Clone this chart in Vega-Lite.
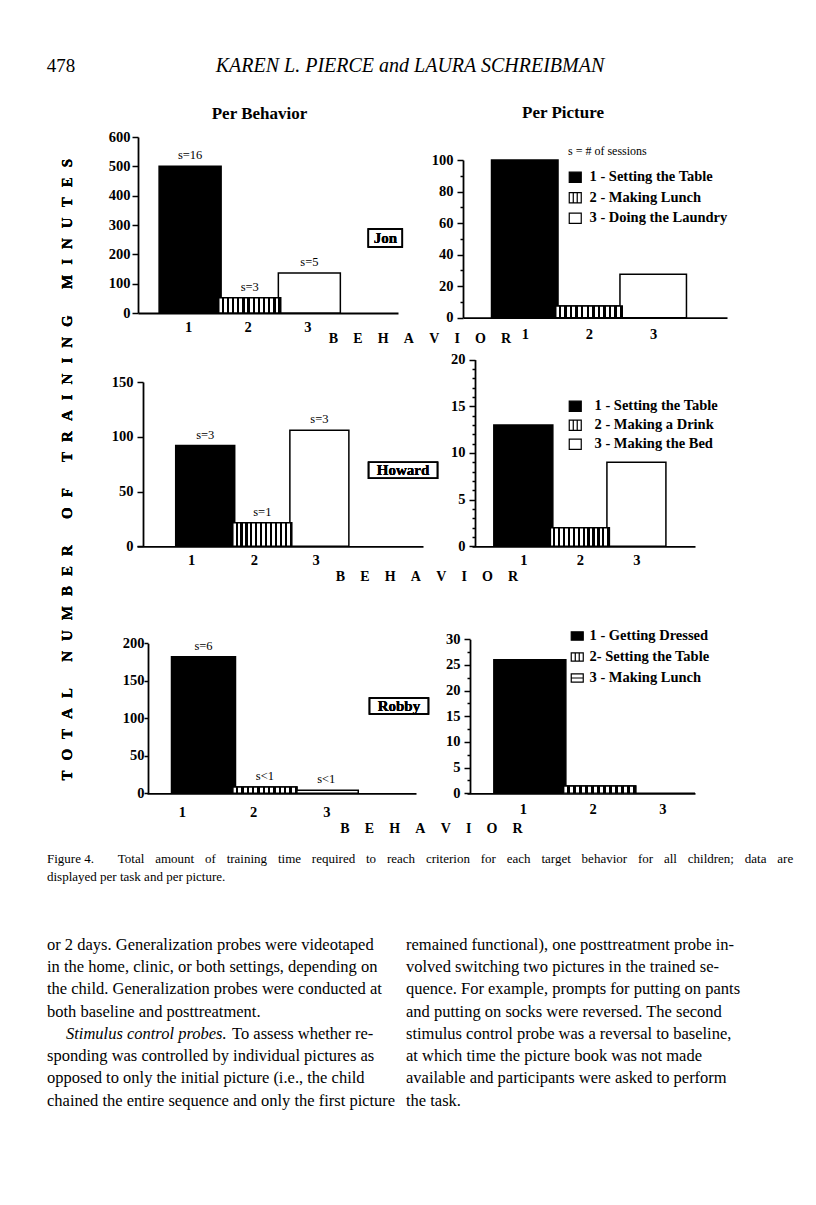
{
"$schema": "https://vega.github.io/schema/vega-lite/v6.json",
"background": "white",
"padding": 0,
"columns": 2,
"bounds": "flush",
"spacing": 0,
"align": "each",
"resolve": {"scale": {"fill": "independent", "shape": "independent"}, "legend": {"fill": "independent", "shape": "independent"}},
"config": {
 "view": {"stroke": null},
 "font": "Liberation Serif",
 "axis": {"labelFont": "Liberation Serif", "labelFontWeight": "bold", "labelFontSize": 14.5, "labelColor": "black", "domainColor": "black", "domainWidth": 1.8, "tickColor": "black", "tickWidth": 1.5, "grid": false, "titleFont": "Liberation Serif", "titleFontWeight": "bold", "titleFontSize": 14, "titleColor": "black", "labelOverlap": false, "labelFlush": false},
 "legend": {"labelFont": "Liberation Serif", "labelFontWeight": "bold", "labelFontSize": 14.5, "labelColor": "black", "titleFont": "Liberation Serif", "titleColor": "black", "symbolStrokeColor": "black", "symbolStrokeWidth": 1.2, "symbolOpacity": 1, "symbolSize": 144, "padding": 0, "orient": "none"},
 "text": {"font": "Liberation Serif", "color": "black"},
 "title": {"font": "Liberation Serif", "fontWeight": "bold", "fontSize": 17, "color": "black"}
},
"concat": [
 {"width": 463, "height": 132,
  "data": {"values": [{"pos": 1, "text": "478"}, {"pos": 2, "text": "KAREN L. PIERCE and LAURA SCHREIBMAN"}]},
  "encoding": {"x": {"field": "pos", "type": "quantitative", "scale": {"domain": [1, 2], "range": [61, 410]}, "axis": null}, "text": {"field": "text"}},
  "layer": [
   {"transform": [{"filter": "datum.pos === 1"}], "mark": {"type": "text", "fontSize": 19, "baseline": "middle"}},
   {"transform": [{"filter": "datum.pos === 2"}], "mark": {"type": "text", "fontSize": 20, "fontStyle": "italic", "baseline": "middle"}}
  ]},
 {"width": 1, "height": 132, "data": {"values": [{"t": ""}]}, "mark": {"type": "text"}, "encoding": {"text": {"field": "t"}}},

 {"width": 463, "height": 181,
  "title": {"text": "Per Behavior", "anchor": "middle", "frame": "group", "baseline": "alphabetic", "offset": 0, "dy": 7, "dx": 28},
  "data": {"values": [{"behavior": 1, "minutes": 500, "sessions": "s=16"}, {"behavior": 2, "minutes": 52, "sessions": "s=3"}, {"behavior": 3, "minutes": 136, "sessions": "s=5"}]},
  "encoding": {
   "x": {"field": "behavior", "type": "quantitative", "title": null, "scale": {"domain": [0.2097, 4.4032], "range": [138, 398], "nice": false, "zero": false}, "axis": {"values": [1, 2, 3], "format": "d", "ticks": false, "tickSize": 0, "labelPadding": 7, "labelOffset": -2}},
   "y": {"field": "minutes", "type": "quantitative", "title": null, "scale": {"domain": [0, 600], "range": [181, 5], "nice": false}, "axis": {"values": [0, 100, 200, 300, 400, 500, 600], "tickSize": 6, "labelPadding": 2, "offset": -138}}
  },
  "layer": [
   {"mark": {"type": "bar", "orient": "vertical", "width": 62, "stroke": "black", "strokeWidth": 1.5, "opacity": 1}, "encoding": {"fill": {"condition": {"test": "datum.behavior === 1", "value": "black"}, "value": "white"}}},
   {"transform": [{"filter": "datum.behavior === 2"}], "mark": {"type": "bar", "orient": "vertical", "width": 62, "stroke": "black", "strokeWidth": 1.5, "opacity": 1, "fill": {"gradient": "linear", "x1": 0, "y1": 0, "x2": 1, "y2": 0, "stops": [{"offset": 0, "color": "white"}, {"offset": 0.046, "color": "white"}, {"offset": 0.046, "color": "black"}, {"offset": 0.083, "color": "black"}, {"offset": 0.083, "color": "white"}, {"offset": 0.129, "color": "white"}, {"offset": 0.129, "color": "black"}, {"offset": 0.167, "color": "black"}, {"offset": 0.167, "color": "white"}, {"offset": 0.213, "color": "white"}, {"offset": 0.213, "color": "black"}, {"offset": 0.25, "color": "black"}, {"offset": 0.25, "color": "white"}, {"offset": 0.296, "color": "white"}, {"offset": 0.296, "color": "black"}, {"offset": 0.333, "color": "black"}, {"offset": 0.333, "color": "white"}, {"offset": 0.379, "color": "white"}, {"offset": 0.379, "color": "black"}, {"offset": 0.417, "color": "black"}, {"offset": 0.417, "color": "white"}, {"offset": 0.463, "color": "white"}, {"offset": 0.463, "color": "black"}, {"offset": 0.5, "color": "black"}, {"offset": 0.5, "color": "white"}, {"offset": 0.546, "color": "white"}, {"offset": 0.546, "color": "black"}, {"offset": 0.583, "color": "black"}, {"offset": 0.583, "color": "white"}, {"offset": 0.629, "color": "white"}, {"offset": 0.629, "color": "black"}, {"offset": 0.667, "color": "black"}, {"offset": 0.667, "color": "white"}, {"offset": 0.713, "color": "white"}, {"offset": 0.713, "color": "black"}, {"offset": 0.75, "color": "black"}, {"offset": 0.75, "color": "white"}, {"offset": 0.796, "color": "white"}, {"offset": 0.796, "color": "black"}, {"offset": 0.833, "color": "black"}, {"offset": 0.833, "color": "white"}, {"offset": 0.879, "color": "white"}, {"offset": 0.879, "color": "black"}, {"offset": 0.917, "color": "black"}, {"offset": 0.917, "color": "white"}, {"offset": 0.963, "color": "white"}, {"offset": 0.963, "color": "black"}, {"offset": 1, "color": "black"}]}}},
   {"mark": {"type": "text", "baseline": "alphabetic", "dy": -7, "fontSize": 12.5}, "encoding": {"text": {"field": "sessions"}}},
   {"mark": {"type": "point", "shape": "M-1,-0.53H1V0.53H-1Z", "size": 1156, "filled": false, "stroke": "black", "strokeWidth": 1.5, "opacity": 1}, "encoding": {"x": {"datum": 4.2742, "type": "quantitative"}, "y": {"datum": 255.7, "type": "quantitative"}}},
   {"mark": {"type": "text", "fontWeight": "bold", "fontSize": 15, "baseline": "middle"}, "encoding": {"x": {"datum": 4.2742, "type": "quantitative"}, "y": {"datum": 255.7, "type": "quantitative"}, "text": {"value": "Jon"}}}
  ]},
 {"width": 264, "height": 185.7,
  "title": {"text": "Per Picture", "anchor": "middle", "frame": "group", "baseline": "alphabetic", "offset": 0, "dy": 3, "dx": -32},
  "data": {"values": [{"behavior": 1, "minutes": 100, "task": "1 - Setting the Table"}, {"behavior": 2, "minutes": 7.4, "task": "2 - Making Lunch"}, {"behavior": 3, "minutes": 27.5, "task": "3 - Doing the Laundry"}]},
  "encoding": {
   "x": {"field": "behavior", "type": "quantitative", "title": "B\u2003\u200AE\u2003\u200AH\u2003\u200AA\u2003\u200AV\u2003\u200AI\u2003\u200AO\u2003\u200AR", "scale": {"domain": [0.1161, 4.0711], "nice": false, "zero": false}, "axis": {"values": [1, 2, 3], "format": "d", "ticks": false, "tickSize": 0, "labelPadding": 10, "titleX": -43.5, "titleY": 24.9, "titleAlign": "center", "titleBaseline": "alphabetic"}},
   "y": {"field": "minutes", "type": "quantitative", "title": null, "scale": {"domain": [0, 100], "range": [185.7, 28], "nice": false}, "axis": {"values": [0, 10, 20, 30, 40, 50, 60, 70, 80, 90, 100], "tickSize": {"condition": {"test": "datum.value % 20 === 0", "value": 6}, "value": 3}, "labelExpr": "datum.value % 20 === 0 ? datum.label : ''", "labelPadding": 4}}
  },
  "layer": [
   {"mark": {"type": "bar", "orient": "vertical", "width": 66.5, "stroke": "black", "strokeWidth": 1.5, "opacity": 1}, "encoding": {"fill": {"condition": {"test": "datum.behavior === 1", "value": "black"}, "value": "white"}}},
   {"transform": [{"filter": "datum.behavior === 2"}], "mark": {"type": "bar", "orient": "vertical", "width": 66.5, "stroke": "black", "strokeWidth": 1.5, "opacity": 1, "fill": {"gradient": "linear", "x1": 0, "y1": 0, "x2": 1, "y2": 0, "stops": [{"offset": 0, "color": "white"}, {"offset": 0.046, "color": "white"}, {"offset": 0.046, "color": "black"}, {"offset": 0.083, "color": "black"}, {"offset": 0.083, "color": "white"}, {"offset": 0.129, "color": "white"}, {"offset": 0.129, "color": "black"}, {"offset": 0.167, "color": "black"}, {"offset": 0.167, "color": "white"}, {"offset": 0.213, "color": "white"}, {"offset": 0.213, "color": "black"}, {"offset": 0.25, "color": "black"}, {"offset": 0.25, "color": "white"}, {"offset": 0.296, "color": "white"}, {"offset": 0.296, "color": "black"}, {"offset": 0.333, "color": "black"}, {"offset": 0.333, "color": "white"}, {"offset": 0.379, "color": "white"}, {"offset": 0.379, "color": "black"}, {"offset": 0.417, "color": "black"}, {"offset": 0.417, "color": "white"}, {"offset": 0.463, "color": "white"}, {"offset": 0.463, "color": "black"}, {"offset": 0.5, "color": "black"}, {"offset": 0.5, "color": "white"}, {"offset": 0.546, "color": "white"}, {"offset": 0.546, "color": "black"}, {"offset": 0.583, "color": "black"}, {"offset": 0.583, "color": "white"}, {"offset": 0.629, "color": "white"}, {"offset": 0.629, "color": "black"}, {"offset": 0.667, "color": "black"}, {"offset": 0.667, "color": "white"}, {"offset": 0.713, "color": "white"}, {"offset": 0.713, "color": "black"}, {"offset": 0.75, "color": "black"}, {"offset": 0.75, "color": "white"}, {"offset": 0.796, "color": "white"}, {"offset": 0.796, "color": "black"}, {"offset": 0.833, "color": "black"}, {"offset": 0.833, "color": "white"}, {"offset": 0.879, "color": "white"}, {"offset": 0.879, "color": "black"}, {"offset": 0.917, "color": "black"}, {"offset": 0.917, "color": "white"}, {"offset": 0.963, "color": "white"}, {"offset": 0.963, "color": "black"}, {"offset": 1, "color": "black"}]}}},
   {"mark": {"type": "point", "opacity": 0, "filled": true, "stroke": "black", "strokeWidth": 1.2},
    "encoding": {
     "fill": {"field": "task", "type": "nominal", "scale": {"domain": ["1 - Setting the Table", "2 - Making Lunch", "3 - Doing the Laundry"], "range": ["black", "white", "white"]}, "legend": {"title": "s = # of sessions", "titleFontSize": 12, "titleFontWeight": "normal", "titlePadding": 12, "legendX": 105, "legendY": 14, "rowPadding": 4.5, "labelOffset": 7, "encode": {"symbols": {"update": {"stroke": {"value": "black"}, "strokeWidth": {"value": 1.2}}}}}},
     "shape": {"field": "task", "type": "nominal", "scale": {"domain": ["1 - Setting the Table", "2 - Making Lunch", "3 - Doing the Laundry"], "range": ["M-1,-0.85H1V0.85H-1Z", "M-1,-0.85H1V0.85H-1ZM-0.33,-0.85V0.85M0.33,-0.85V0.85", "M-1,-0.85H1V0.85H-1Z"]}, "legend": {"title": "s = # of sessions", "titleFontSize": 12, "titleFontWeight": "normal", "titlePadding": 12, "legendX": 105, "legendY": 14, "rowPadding": 4.5, "labelOffset": 7, "encode": {"symbols": {"update": {"stroke": {"value": "black"}, "strokeWidth": {"value": 1.2}}}}}}
    }}
  ]},

 {"width": 463, "height": 228.3,
  "data": {"values": [{"behavior": 1, "minutes": 92, "sessions": "s=3"}, {"behavior": 2, "minutes": 21.6, "sessions": "s=1"}, {"behavior": 3, "minutes": 106, "sessions": "s=3"}]},
  "encoding": {
   "x": {"field": "behavior", "type": "quantitative", "title": null, "scale": {"domain": [-0.1073, 4.7278], "range": [137, 423], "nice": false, "zero": false}, "axis": {"values": [0.755, 1.854, 2.936], "labelExpr": "'' + round(datum.value)", "ticks": false, "tickSize": 0, "labelPadding": 7}},
   "y": {"field": "minutes", "type": "quantitative", "title": null, "scale": {"domain": [0, 150], "range": [228.3, 64], "nice": false}, "axis": {"values": [0, 50, 100, 150], "tickSize": 6, "labelPadding": 4, "offset": -143}}
  },
  "layer": [
   {"mark": {"type": "bar", "orient": "vertical", "width": 59, "stroke": "black", "strokeWidth": 1.5, "opacity": 1}, "encoding": {"fill": {"condition": {"test": "datum.behavior === 1", "value": "black"}, "value": "white"}}},
   {"transform": [{"filter": "datum.behavior === 2"}], "mark": {"type": "bar", "orient": "vertical", "width": 59, "stroke": "black", "strokeWidth": 1.5, "opacity": 1, "fill": {"gradient": "linear", "x1": 0, "y1": 0, "x2": 1, "y2": 0, "stops": [{"offset": 0, "color": "white"}, {"offset": 0.046, "color": "white"}, {"offset": 0.046, "color": "black"}, {"offset": 0.083, "color": "black"}, {"offset": 0.083, "color": "white"}, {"offset": 0.129, "color": "white"}, {"offset": 0.129, "color": "black"}, {"offset": 0.167, "color": "black"}, {"offset": 0.167, "color": "white"}, {"offset": 0.213, "color": "white"}, {"offset": 0.213, "color": "black"}, {"offset": 0.25, "color": "black"}, {"offset": 0.25, "color": "white"}, {"offset": 0.296, "color": "white"}, {"offset": 0.296, "color": "black"}, {"offset": 0.333, "color": "black"}, {"offset": 0.333, "color": "white"}, {"offset": 0.379, "color": "white"}, {"offset": 0.379, "color": "black"}, {"offset": 0.417, "color": "black"}, {"offset": 0.417, "color": "white"}, {"offset": 0.463, "color": "white"}, {"offset": 0.463, "color": "black"}, {"offset": 0.5, "color": "black"}, {"offset": 0.5, "color": "white"}, {"offset": 0.546, "color": "white"}, {"offset": 0.546, "color": "black"}, {"offset": 0.583, "color": "black"}, {"offset": 0.583, "color": "white"}, {"offset": 0.629, "color": "white"}, {"offset": 0.629, "color": "black"}, {"offset": 0.667, "color": "black"}, {"offset": 0.667, "color": "white"}, {"offset": 0.713, "color": "white"}, {"offset": 0.713, "color": "black"}, {"offset": 0.75, "color": "black"}, {"offset": 0.75, "color": "white"}, {"offset": 0.796, "color": "white"}, {"offset": 0.796, "color": "black"}, {"offset": 0.833, "color": "black"}, {"offset": 0.833, "color": "white"}, {"offset": 0.879, "color": "white"}, {"offset": 0.879, "color": "black"}, {"offset": 0.917, "color": "black"}, {"offset": 0.917, "color": "white"}, {"offset": 0.963, "color": "white"}, {"offset": 0.963, "color": "black"}, {"offset": 1, "color": "black"}]}}},
   {"mark": {"type": "text", "baseline": "alphabetic", "dy": -7, "fontSize": 12.5}, "encoding": {"text": {"field": "sessions"}}},
   {"mark": {"type": "point", "shape": "M-1,-0.232H1V0.232H-1Z", "size": 4761, "filled": false, "stroke": "black", "strokeWidth": 1.5, "opacity": 1}, "encoding": {"x": {"datum": 4.4658, "type": "quantitative"}, "y": {"datum": 69.39, "type": "quantitative"}}},
   {"mark": {"type": "text", "fontWeight": "bold", "fontSize": 15, "baseline": "middle"}, "encoding": {"x": {"datum": 4.4658, "type": "quantitative"}, "y": {"datum": 69.39, "type": "quantitative"}, "text": {"value": "Howard"}}},
   {"mark": {"type": "text", "angle": 270, "fontSize": 15, "fontWeight": "bold", "baseline": "middle", "align": "center"}, "encoding": {"x": {"datum": -1.426, "type": "quantitative"}, "y": {"datum": 69.85, "type": "quantitative"}, "text": {"value": "T\u2002\u2006O\u2002\u2006T\u2002\u2006A\u2002\u2006L\u2003\u2002\u2005N\u2002\u2006U\u2002\u2006M\u2002\u2006B\u2002\u2006E\u2002\u2006R\u2003\u2002\u2005O\u2002\u2006F\u2003\u2002\u2005T\u2002\u2006R\u2002\u2006A\u2002\u2006I\u2002\u2006N\u2002\u2006I\u2002\u2006N\u2002\u2006G\u2003\u2002\u2005M\u2002\u2006I\u2002\u2006N\u2002\u2006U\u2002\u2006T\u2002\u2006E\u2002\u2006S"}}}
  ]},
 {"width": 232, "height": 228.3,
  "data": {"values": [{"behavior": 1, "minutes": 13, "task": "1 - Setting the Table"}, {"behavior": 2, "minutes": 2, "task": "2 - Making a Drink"}, {"behavior": 3, "minutes": 9, "task": "3 - Making the Bed"}]},
  "encoding": {
   "x": {"field": "behavior", "type": "quantitative", "title": "B\u2003\u200AE\u2003\u200AH\u2003\u200AA\u2003\u200AV\u2003\u200AI\u2003\u200AO\u2003\u200AR", "scale": {"domain": [0.1807, 3.9476], "range": [9, 232], "nice": false, "zero": false}, "axis": {"values": [1, 2, 3], "format": "d", "ticks": false, "tickSize": 0, "labelPadding": 7, "titleX": -36.5, "titleY": 34.6, "titleAlign": "center", "titleBaseline": "alphabetic"}},
   "y": {"field": "minutes", "type": "quantitative", "title": null, "scale": {"domain": [0, 20], "range": [228.3, 41.6], "nice": false}, "axis": {"values": [0, 1, 2, 3, 4, 5, 6, 7, 8, 9, 10, 11, 12, 13, 14, 15, 16, 17, 18, 19, 20], "tickSize": {"condition": {"test": "datum.value % 5 === 0", "value": 6}, "value": 3}, "labelExpr": "datum.value % 5 === 0 ? datum.label : ''", "labelPadding": 4, "offset": -12}}
  },
  "layer": [
   {"mark": {"type": "bar", "orient": "vertical", "width": 59, "stroke": "black", "strokeWidth": 1.5, "opacity": 1}, "encoding": {"fill": {"condition": {"test": "datum.behavior === 1", "value": "black"}, "value": "white"}}},
   {"transform": [{"filter": "datum.behavior === 2"}], "mark": {"type": "bar", "orient": "vertical", "width": 59, "stroke": "black", "strokeWidth": 1.5, "opacity": 1, "fill": {"gradient": "linear", "x1": 0, "y1": 0, "x2": 1, "y2": 0, "stops": [{"offset": 0, "color": "white"}, {"offset": 0.046, "color": "white"}, {"offset": 0.046, "color": "black"}, {"offset": 0.083, "color": "black"}, {"offset": 0.083, "color": "white"}, {"offset": 0.129, "color": "white"}, {"offset": 0.129, "color": "black"}, {"offset": 0.167, "color": "black"}, {"offset": 0.167, "color": "white"}, {"offset": 0.213, "color": "white"}, {"offset": 0.213, "color": "black"}, {"offset": 0.25, "color": "black"}, {"offset": 0.25, "color": "white"}, {"offset": 0.296, "color": "white"}, {"offset": 0.296, "color": "black"}, {"offset": 0.333, "color": "black"}, {"offset": 0.333, "color": "white"}, {"offset": 0.379, "color": "white"}, {"offset": 0.379, "color": "black"}, {"offset": 0.417, "color": "black"}, {"offset": 0.417, "color": "white"}, {"offset": 0.463, "color": "white"}, {"offset": 0.463, "color": "black"}, {"offset": 0.5, "color": "black"}, {"offset": 0.5, "color": "white"}, {"offset": 0.546, "color": "white"}, {"offset": 0.546, "color": "black"}, {"offset": 0.583, "color": "black"}, {"offset": 0.583, "color": "white"}, {"offset": 0.629, "color": "white"}, {"offset": 0.629, "color": "black"}, {"offset": 0.667, "color": "black"}, {"offset": 0.667, "color": "white"}, {"offset": 0.713, "color": "white"}, {"offset": 0.713, "color": "black"}, {"offset": 0.75, "color": "black"}, {"offset": 0.75, "color": "white"}, {"offset": 0.796, "color": "white"}, {"offset": 0.796, "color": "black"}, {"offset": 0.833, "color": "black"}, {"offset": 0.833, "color": "white"}, {"offset": 0.879, "color": "white"}, {"offset": 0.879, "color": "black"}, {"offset": 0.917, "color": "black"}, {"offset": 0.917, "color": "white"}, {"offset": 0.963, "color": "white"}, {"offset": 0.963, "color": "black"}, {"offset": 1, "color": "black"}]}}},
   {"mark": {"type": "point", "opacity": 0, "filled": true, "stroke": "black", "strokeWidth": 1.2},
    "encoding": {
     "fill": {"field": "task", "type": "nominal", "scale": {"domain": ["1 - Setting the Table", "2 - Making a Drink", "3 - Making the Bed"], "range": ["black", "white", "white"]}, "legend": {"title": null, "legendX": 105, "legendY": 81, "rowPadding": 3, "labelOffset": 12, "encode": {"symbols": {"update": {"stroke": {"value": "black"}, "strokeWidth": {"value": 1.2}}}}}},
     "shape": {"field": "task", "type": "nominal", "scale": {"domain": ["1 - Setting the Table", "2 - Making a Drink", "3 - Making the Bed"], "range": ["M-1,-0.85H1V0.85H-1Z", "M-1,-0.85H1V0.85H-1ZM-0.33,-0.85V0.85M0.33,-0.85V0.85", "M-1,-0.85H1V0.85H-1Z"]}, "legend": {"title": null, "legendX": 105, "legendY": 81, "rowPadding": 3, "labelOffset": 12, "encode": {"symbols": {"update": {"stroke": {"value": "black"}, "strokeWidth": {"value": 1.2}}}}}}
    }}
  ]},

 {"width": 463, "height": 246.3,
  "data": {"values": [{"behavior": 1, "minutes": 182, "sessions": "s=6"}, {"behavior": 2, "minutes": 8.4, "sessions": "s<1"}, {"behavior": 3, "minutes": 4, "sessions": "s<1"}]},
  "encoding": {
   "x": {"field": "behavior", "type": "quantitative", "title": null, "scale": {"domain": [0.161, 4.3806], "range": [147, 416], "nice": false, "zero": false}, "axis": {"values": [0.647, 1.808, 3.0], "labelExpr": "'' + round(datum.value)", "ticks": false, "tickSize": 0, "labelPadding": 12}},
   "y": {"field": "minutes", "type": "quantitative", "title": null, "scale": {"domain": [0, 200], "range": [246.3, 96.3], "nice": false}, "axis": {"values": [0, 50, 100, 150, 200], "tickSize": 4, "labelPadding": 0, "offset": -148}}
  },
  "layer": [
   {"mark": {"type": "bar", "orient": "vertical", "width": 64, "stroke": "black", "strokeWidth": 1.5, "opacity": 1}, "encoding": {"fill": {"condition": {"test": "datum.behavior === 1", "value": "black"}, "value": "white"}}},
   {"transform": [{"filter": "datum.behavior === 2"}], "mark": {"type": "bar", "orient": "vertical", "width": 64, "stroke": "black", "strokeWidth": 1.5, "opacity": 1, "fill": {"gradient": "linear", "x1": 0, "y1": 0, "x2": 1, "y2": 0, "stops": [{"offset": 0, "color": "white"}, {"offset": 0.046, "color": "white"}, {"offset": 0.046, "color": "black"}, {"offset": 0.083, "color": "black"}, {"offset": 0.083, "color": "white"}, {"offset": 0.129, "color": "white"}, {"offset": 0.129, "color": "black"}, {"offset": 0.167, "color": "black"}, {"offset": 0.167, "color": "white"}, {"offset": 0.213, "color": "white"}, {"offset": 0.213, "color": "black"}, {"offset": 0.25, "color": "black"}, {"offset": 0.25, "color": "white"}, {"offset": 0.296, "color": "white"}, {"offset": 0.296, "color": "black"}, {"offset": 0.333, "color": "black"}, {"offset": 0.333, "color": "white"}, {"offset": 0.379, "color": "white"}, {"offset": 0.379, "color": "black"}, {"offset": 0.417, "color": "black"}, {"offset": 0.417, "color": "white"}, {"offset": 0.463, "color": "white"}, {"offset": 0.463, "color": "black"}, {"offset": 0.5, "color": "black"}, {"offset": 0.5, "color": "white"}, {"offset": 0.546, "color": "white"}, {"offset": 0.546, "color": "black"}, {"offset": 0.583, "color": "black"}, {"offset": 0.583, "color": "white"}, {"offset": 0.629, "color": "white"}, {"offset": 0.629, "color": "black"}, {"offset": 0.667, "color": "black"}, {"offset": 0.667, "color": "white"}, {"offset": 0.713, "color": "white"}, {"offset": 0.713, "color": "black"}, {"offset": 0.75, "color": "black"}, {"offset": 0.75, "color": "white"}, {"offset": 0.796, "color": "white"}, {"offset": 0.796, "color": "black"}, {"offset": 0.833, "color": "black"}, {"offset": 0.833, "color": "white"}, {"offset": 0.879, "color": "white"}, {"offset": 0.879, "color": "black"}, {"offset": 0.917, "color": "black"}, {"offset": 0.917, "color": "white"}, {"offset": 0.963, "color": "white"}, {"offset": 0.963, "color": "black"}, {"offset": 1, "color": "black"}]}}},
   {"mark": {"type": "text", "baseline": "alphabetic", "dy": -7, "fontSize": 12.5}, "encoding": {"text": {"field": "sessions"}}},
   {"mark": {"type": "point", "shape": "M-1,-0.271H1V0.271H-1Z", "size": 3481, "filled": false, "stroke": "black", "strokeWidth": 1.5, "opacity": 1}, "encoding": {"x": {"datum": 4.1845, "type": "quantitative"}, "y": {"datum": 116.4, "type": "quantitative"}}},
   {"mark": {"type": "text", "fontWeight": "bold", "fontSize": 15, "baseline": "middle"}, "encoding": {"x": {"datum": 4.1845, "type": "quantitative"}, "y": {"datum": 116.4, "type": "quantitative"}, "text": {"value": "Robby"}}}
  ]},
 {"width": 232, "height": 246.3,
  "data": {"values": [{"behavior": 1, "minutes": 26, "task": "1 - Getting Dressed"}, {"behavior": 2, "minutes": 1.4, "task": "2- Setting the Table"}, {"behavior": 3, "minutes": 0, "task": "3 - Making Lunch"}]},
  "encoding": {
   "x": {"field": "behavior", "type": "quantitative", "title": "B\u2003\u200AE\u2003\u200AH\u2003\u200AA\u2003\u200AV\u2003\u200AI\u2003\u200AO\u2003\u200AR", "scale": {"domain": [0.1712, 3.2945], "range": [4, 232], "nice": false, "zero": false}, "axis": {"values": [1, 2, 3], "format": "d", "ticks": false, "tickSize": 0, "labelPadding": 9, "labelOffset": -7, "titleX": -32, "titleY": 39.3, "titleAlign": "center", "titleBaseline": "alphabetic"}},
   "y": {"field": "minutes", "type": "quantitative", "title": null, "scale": {"domain": [0, 30], "range": [246.3, 92.3], "nice": false}, "axis": {"values": [0, 2.5, 5, 7.5, 10, 12.5, 15, 17.5, 20, 22.5, 25, 27.5, 30], "tickSize": {"condition": {"test": "datum.value % 5 === 0", "value": 6}, "value": 3}, "labelExpr": "datum.value % 5 === 0 ? datum.label : ''", "labelPadding": 4, "offset": -7}}
  },
  "layer": [
   {"mark": {"type": "bar", "orient": "vertical", "width": 72, "stroke": "black", "strokeWidth": 1.5, "opacity": 1, "clip": true}, "encoding": {"fill": {"condition": {"test": "datum.behavior === 1", "value": "black"}, "value": "white"}}},
   {"transform": [{"filter": "datum.behavior === 2"}], "mark": {"type": "bar", "orient": "vertical", "width": 72, "stroke": "black", "strokeWidth": 1.5, "opacity": 1, "clip": true, "fill": {"gradient": "linear", "x1": 0, "y1": 0, "x2": 1, "y2": 0, "stops": [{"offset": 0, "color": "white"}, {"offset": 0.046, "color": "white"}, {"offset": 0.046, "color": "black"}, {"offset": 0.083, "color": "black"}, {"offset": 0.083, "color": "white"}, {"offset": 0.129, "color": "white"}, {"offset": 0.129, "color": "black"}, {"offset": 0.167, "color": "black"}, {"offset": 0.167, "color": "white"}, {"offset": 0.213, "color": "white"}, {"offset": 0.213, "color": "black"}, {"offset": 0.25, "color": "black"}, {"offset": 0.25, "color": "white"}, {"offset": 0.296, "color": "white"}, {"offset": 0.296, "color": "black"}, {"offset": 0.333, "color": "black"}, {"offset": 0.333, "color": "white"}, {"offset": 0.379, "color": "white"}, {"offset": 0.379, "color": "black"}, {"offset": 0.417, "color": "black"}, {"offset": 0.417, "color": "white"}, {"offset": 0.463, "color": "white"}, {"offset": 0.463, "color": "black"}, {"offset": 0.5, "color": "black"}, {"offset": 0.5, "color": "white"}, {"offset": 0.546, "color": "white"}, {"offset": 0.546, "color": "black"}, {"offset": 0.583, "color": "black"}, {"offset": 0.583, "color": "white"}, {"offset": 0.629, "color": "white"}, {"offset": 0.629, "color": "black"}, {"offset": 0.667, "color": "black"}, {"offset": 0.667, "color": "white"}, {"offset": 0.713, "color": "white"}, {"offset": 0.713, "color": "black"}, {"offset": 0.75, "color": "black"}, {"offset": 0.75, "color": "white"}, {"offset": 0.796, "color": "white"}, {"offset": 0.796, "color": "black"}, {"offset": 0.833, "color": "black"}, {"offset": 0.833, "color": "white"}, {"offset": 0.879, "color": "white"}, {"offset": 0.879, "color": "black"}, {"offset": 0.917, "color": "black"}, {"offset": 0.917, "color": "white"}, {"offset": 0.963, "color": "white"}, {"offset": 0.963, "color": "black"}, {"offset": 1, "color": "black"}]}}},
   {"mark": {"type": "point", "opacity": 0, "filled": true, "stroke": "black", "strokeWidth": 1.2},
    "encoding": {
     "fill": {"field": "task", "type": "nominal", "scale": {"domain": ["1 - Getting Dressed", "2- Setting the Table", "3 - Making Lunch"], "range": ["black", "white", "white"]}, "legend": {"title": null, "legendX": 107, "legendY": 81.75, "rowPadding": 6, "labelOffset": 5, "encode": {"symbols": {"update": {"stroke": {"value": "black"}, "strokeWidth": {"value": 1.2}}}}}},
     "shape": {"field": "task", "type": "nominal", "scale": {"domain": ["1 - Getting Dressed", "2- Setting the Table", "3 - Making Lunch"], "range": ["M-1,-0.7H1V0.7H-1Z", "M-1,-0.7H1V0.7H-1ZM-0.33,-0.7V0.7M0.33,-0.7V0.7", "M-1,-0.7H1V0.7H-1ZM-1,0H1"]}, "legend": {"title": null, "legendX": 107, "legendY": 81.75, "rowPadding": 6, "labelOffset": 5, "encode": {"symbols": {"update": {"stroke": {"value": "black"}, "strokeWidth": {"value": 1.2}}}}}}
    }}
  ]},

 {"width": 463, "height": 413,
  "data": {"values": [
   {"block": "caption", "seg": "main", "col": 1, "line": 1, "text": "\u2003\u2004Figure 4.\u2003\u2002\u2004Total\u2002\u2004amount\u2002\u2004of\u2002\u2004training\u2002\u2004time\u2002\u2004required\u2002\u2004to\u2002\u2004reach\u2002\u2004criterion\u2002\u2004for\u2002\u2004each\u2002\u2004target\u2002\u2004behavior\u2002\u2004for\u2002\u2004all\u2002\u2004children;\u2002\u2004data\u2002\u2004are"},
   {"block": "caption", "seg": "main", "col": 1, "line": 2, "text": "displayed per task and per picture."},
   {"block": "body", "seg": "main", "col": 1, "line": 1, "text": "or 2 days. Generalization probes were videotaped"},
   {"block": "body", "seg": "main", "col": 1, "line": 2, "text": "in the home, clinic, or both settings, depending on"},
   {"block": "body", "seg": "main", "col": 1, "line": 3, "text": "the child. Generalization probes were conducted at"},
   {"block": "body", "seg": "main", "col": 1, "line": 4, "text": "both baseline and posttreatment."},
   {"block": "body", "seg": "italic", "col": 1, "line": 5, "text": "Stimulus control probes."},
   {"block": "body", "seg": "cont", "col": 1, "line": 5, "text": "To assess whether re-"},
   {"block": "body", "seg": "main", "col": 1, "line": 6, "text": "sponding was controlled by individual pictures as"},
   {"block": "body", "seg": "main", "col": 1, "line": 7, "text": "opposed to only the initial picture (i.e., the child"},
   {"block": "body", "seg": "main", "col": 1, "line": 8, "text": "chained the entire sequence and only the first picture"},
   {"block": "body", "seg": "main", "col": 2, "line": 1, "text": "remained functional), one posttreatment probe in-"},
   {"block": "body", "seg": "main", "col": 2, "line": 2, "text": "volved switching two pictures in the trained se-"},
   {"block": "body", "seg": "main", "col": 2, "line": 3, "text": "quence. For example, prompts for putting on pants"},
   {"block": "body", "seg": "main", "col": 2, "line": 4, "text": "and putting on socks were reversed. The second"},
   {"block": "body", "seg": "main", "col": 2, "line": 5, "text": "stimulus control probe was a reversal to baseline,"},
   {"block": "body", "seg": "main", "col": 2, "line": 6, "text": "at which time the picture book was not made"},
   {"block": "body", "seg": "main", "col": 2, "line": 7, "text": "available and participants were asked to perform"},
   {"block": "body", "seg": "main", "col": 2, "line": 8, "text": "the task."}
  ]},
  "encoding": {
   "x": {"field": "col", "type": "quantitative", "scale": {"domain": [1, 2], "range": [47, 406]}, "axis": null},
   "text": {"field": "text"}
  },
  "resolve": {"scale": {"y": "independent"}},
  "layer": [
   {"transform": [{"filter": "datum.block === 'caption'"}], "mark": {"type": "text", "align": "left", "baseline": "middle", "fontSize": 13}, "encoding": {"y": {"field": "line", "type": "quantitative", "scale": {"domain": [1, 2], "range": [64.7, 82.7]}, "axis": null}}},
   {"transform": [{"filter": "datum.block === 'body' && datum.seg === 'main'"}], "mark": {"type": "text", "align": "left", "baseline": "middle", "fontSize": 16.5}, "encoding": {"y": {"field": "line", "type": "quantitative", "scale": {"domain": [1, 8], "range": [150.7, 306.7]}, "axis": null}}},
   {"transform": [{"filter": "datum.block === 'body' && datum.seg === 'italic'"}], "mark": {"type": "text", "align": "left", "baseline": "middle", "fontSize": 16.5, "fontStyle": "italic", "dx": 19}, "encoding": {"y": {"field": "line", "type": "quantitative", "scale": {"domain": [1, 8], "range": [150.7, 306.7]}, "axis": null}}},
   {"transform": [{"filter": "datum.block === 'body' && datum.seg === 'cont'"}], "mark": {"type": "text", "align": "left", "baseline": "middle", "fontSize": 16.5, "dx": 185}, "encoding": {"y": {"field": "line", "type": "quantitative", "scale": {"domain": [1, 8], "range": [150.7, 306.7]}, "axis": null}}}
  ]}
]
}
